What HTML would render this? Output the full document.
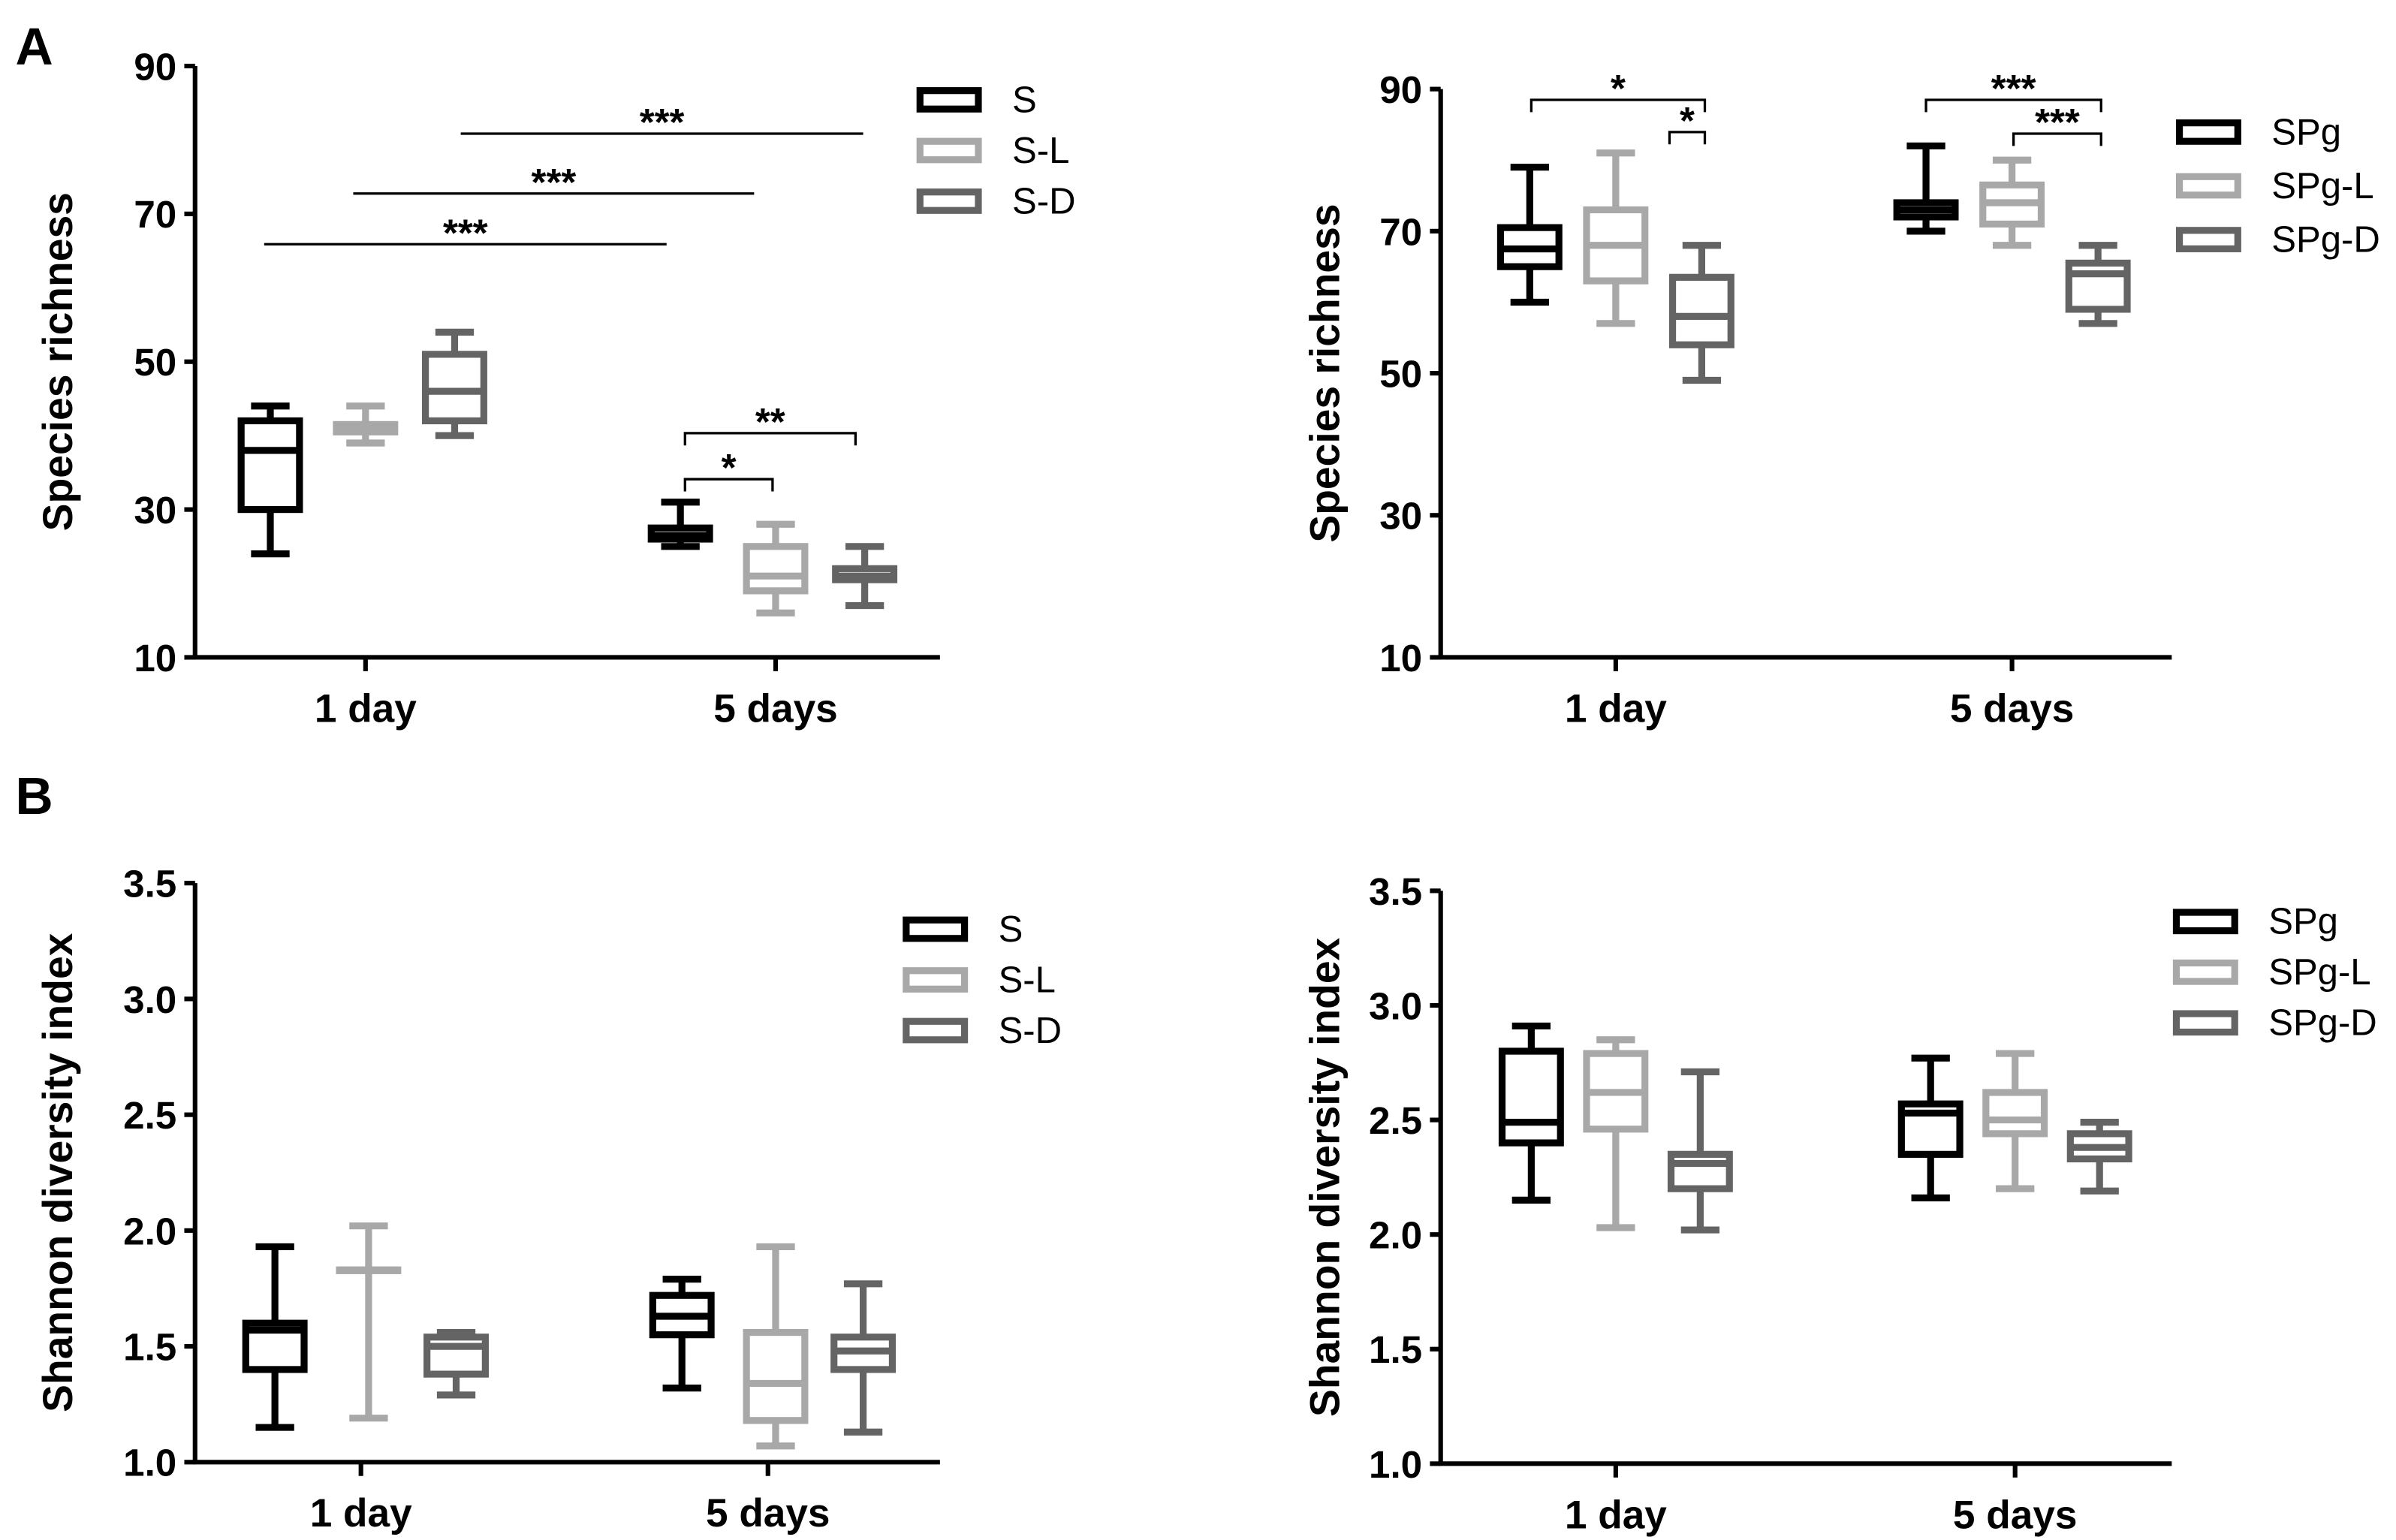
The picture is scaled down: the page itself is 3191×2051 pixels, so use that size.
<!DOCTYPE html>
<html><head><meta charset="utf-8">
<style>
html,body{margin:0;padding:0;background:#fff;}
svg{display:block;font-family:"Liberation Sans",Arial,sans-serif;}
</style></head>
<body>
<svg id="fig" width="3191" height="2051" viewBox="0 0 3191 2051" xmlns="http://www.w3.org/2000/svg">
<g id="root" transform="scale(2.0455)"></g>
</svg>
<script>
// ---------- data ----------
const categories = ["1 day", "5 days"];
const seriesA1 = ["S", "S-L", "S-D"];
const seriesA2 = ["SPg", "SPg-L", "SPg-D"];
const colors = ["#000000", "#a8a8a8", "#646464"];
// [min, q1, median, q3, max] per series, per category
const richS_1d = [[24,30,38,42,44],[39,40.5,41,41.5,44],[40,42,46,51,54]];
const richS_5d = [[25,26,26.5,27.5,31],[16,19,21,25,28],[17,20.5,21,22,25]];
const richP_1d = [[60,65,67.5,70.5,79],[57,63,68,73,81],[49,54,58,63.5,68]];
const richP_5d = [[70,72,73,74,82],[68,71,74,76.5,80],[57,59,64,65.5,68]];
const shanS_1d = [[1.15,1.40,1.57,1.60,1.93],[1.19,1.83,1.83,1.83,2.02],[1.29,1.38,1.50,1.54,1.56]];
const shanS_5d = [[1.32,1.55,1.63,1.72,1.79],[1.07,1.18,1.34,1.56,1.93],[1.13,1.40,1.48,1.54,1.77]];
const shanP_1d = [[2.15,2.40,2.49,2.80,2.91],[2.03,2.46,2.62,2.79,2.85],[2.02,2.20,2.31,2.35,2.71]];
const shanP_5d = [[2.16,2.35,2.53,2.57,2.77],[2.20,2.44,2.50,2.62,2.79],[2.19,2.33,2.38,2.44,2.49]];
const richTicks = [10,30,50,70,90];
const shanTicks = [1.0,1.5,2.0,2.5,3.0,3.5];
const shanTickLabels = ["1.0","1.5","2.0","2.5","3.0","3.5"];

const NS = "http://www.w3.org/2000/svg";
const root = document.getElementById("root");
function el(tag, attrs, parent, text){
  const e = document.createElementNS(NS, tag);
  for (const k in attrs) e.setAttribute(k, attrs[k]);
  if (text !== undefined) e.textContent = text;
  (parent||root).appendChild(e);
  return e;
}

function panel(cfg){
  const g = el("g", {});
  
  
  const y = v => cfg.yBot - (v - cfg.ymin) / (cfg.ymax - cfg.ymin) * (cfg.yBot - cfg.yTop);
  const ax = el("path", {d:`M${cfg.x0} ${cfg.yTop}V${cfg.yBot}H${cfg.xEnd}`, stroke:"#000","stroke-width":3,fill:"none"}, g);
  
  
  cfg.ticks.forEach((t,i)=>{
    el("line",{x1:cfg.x0-7,x2:cfg.x0,y1:y(t),y2:y(t),stroke:"#000","stroke-width":3},g);
    const tl = el("text",{x:cfg.x0-12,y:y(t)+9,"text-anchor":"end","font-size":25,"font-weight":"bold"},g,cfg.tickLabels[i]);
    
    
  });
  categories.forEach((c,ci)=>{
    const cx = cfg.catX[ci];
    el("line",{x1:cx,x2:cx,y1:cfg.yBot,y2:cfg.yBot+9,stroke:"#000","stroke-width":3},g);
    const xl = el("text",{x:cx,y:cfg.yBot+42,"text-anchor":"middle","font-size":26,"font-weight":"bold"},g,c);
    
    
  });
  const yl = el("text",{x:0,y:0,transform:`translate(${cfg.ylx},${(cfg.yTop+cfg.yBot)/2}) rotate(-90)`,"text-anchor":"middle","font-size":27,"font-weight":"bold"},g,cfg.ylabel);
  
  
  [cfg.d1, cfg.d2].forEach((grp,ci)=>{
    grp.forEach((s,si)=>{
      const cx = cfg.catX[ci] + cfg.offs[si];
      const w = cfg.boxW, col = colors[si];
      const bg = el("g",{stroke:col,"stroke-width":4.5,fill:"none"},g);
      
      
      el("line",{x1:cx,x2:cx,y1:y(s[0]),y2:y(s[1])},bg);
      el("line",{x1:cx,x2:cx,y1:y(s[3]),y2:y(s[4])},bg);
      el("line",{x1:cx-w*0.33,x2:cx+w*0.33,y1:y(s[0]),y2:y(s[0])},bg);
      el("line",{x1:cx-w*0.33,x2:cx+w*0.33,y1:y(s[4]),y2:y(s[4])},bg);
      el("rect",{x:cx-w/2,y:y(s[3]),width:w,height:Math.max(0.5,y(s[1])-y(s[3]))},bg);
      el("line",{x1:cx-w/2,x2:cx+w/2,y1:y(s[2]),y2:y(s[2])},bg);
    });
  });
  cfg.series.forEach((s,si)=>{
    const ly = cfg.legY + si*cfg.legDy;
    const lg = el("g",{},g);
    
    
    el("rect",{x:cfg.legX,y:ly-6,width:38,height:12,fill:"none",stroke:colors[si],"stroke-width":4.5},lg);
    el("text",{x:cfg.legX+60,y:ly+8,"font-size":24},lg,s);
  });
  return y;
}

panel({name:"panel-a-left",x0:127,xEnd:612,yTop:43,yBot:428,ymin:10,ymax:90,ticks:richTicks,tickLabels:richTicks.map(String),
  catX:[238,505],offs:[-62,0,58],boxW:38,d1:richS_1d,d2:richS_5d,series:seriesA1,ylabel:"Species richness",ylx:47,legX:599,legY:65,legDy:33});
panel({name:"panel-a-right",x0:938,xEnd:1414,yTop:58,yBot:428,ymin:10,ymax:90,ticks:richTicks,tickLabels:richTicks.map(String),
  catX:[1052,1310],offs:[-56,0,56],boxW:38,d1:richP_1d,d2:richP_5d,series:seriesA2,ylabel:"Species richness",ylx:872,legX:1419,legY:86,legDy:35});
panel({name:"panel-b-left",x0:127,xEnd:612,yTop:575,yBot:952,ymin:1,ymax:3.5,ticks:shanTicks,tickLabels:shanTickLabels,
  catX:[235,500],offs:[-56,5,62],boxW:38,d1:shanS_1d,d2:shanS_5d,series:seriesA1,ylabel:"Shannon diversity index",ylx:47,legX:590,legY:605,legDy:33});
panel({name:"panel-b-right",x0:938,xEnd:1414,yTop:580,yBot:953,ymin:1,ymax:3.5,ticks:shanTicks,tickLabels:shanTickLabels,
  catX:[1052,1312],offs:[-55,0,55],boxW:38,d1:shanP_1d,d2:shanP_5d,series:seriesA2,ylabel:"Shannon diversity index",ylx:872,legX:1417,legY:600,legDy:33});

const la = el("text",{x:10,y:42,"font-size":34,"font-weight":"bold"},root,"A");


const lb = el("text",{x:10,y:530,"font-size":34,"font-weight":"bold"},root,"B");



function sigLine(x1,x2,yy,txt,bracket){
  const g = el("g",{});
  
  
  const d = bracket ? `M${x1} ${yy+8}V${yy}H${x2}V${yy+8}` : `M${x1} ${yy}H${x2}`;
  el("path",{d:d,stroke:"#000","stroke-width":1.6,fill:"none"},g);
  el("text",{x:(x1+x2)/2,y:yy+1,"text-anchor":"middle","font-size":25,"font-weight":"bold"},g,txt);
}
sigLine(172,434,159,"***",false);
sigLine(230,491,126,"***",false);
sigLine(300,562,87,"***",false);
sigLine(446,503,312,"*",true);
sigLine(446,557,282,"**",true);
sigLine(997,1110,65,"*",true);
sigLine(1087,1110,86,"*",true);
sigLine(1254,1368,65,"***",true);
sigLine(1311,1368,87,"***",true);
</script>
</body></html>
